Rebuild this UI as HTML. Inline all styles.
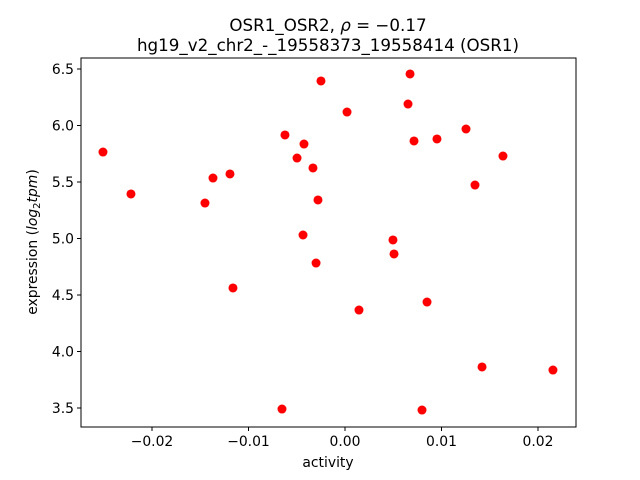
<!DOCTYPE html>
<html><head><meta charset="utf-8"><style>
body{margin:0;background:#fff;}
svg{display:block;font-family:"DejaVu Sans","Liberation Sans",sans-serif;}
</style></head><body>
<svg id="chart" width="640" height="480"></svg>
<script>
const xValues=[-0.02508,-0.02218,-0.01368,-0.01192,-0.01451,-0.01161,-0.00622,-0.00249,-0.00425,-0.00497,-0.00332,-0.0028,-0.00435,-0.003,-0.00653,0.00021,0.00145,0.00497,0.00508,0.00674,0.00653,0.00715,0.00953,0.0085,0.00798,0.01254,0.01347,0.01637,0.0142,0.02155];
const yValues=[5.765,5.394,5.535,5.571,5.314,4.562,5.916,6.394,5.836,5.712,5.624,5.341,5.031,4.783,3.491,6.119,4.367,4.987,4.863,6.456,6.190,5.863,5.881,4.438,3.482,5.969,5.473,5.730,3.863,3.836];
const xTicks=[-0.02,-0.01,0.00,0.01,0.02];
const xTickLabels=["\u22120.02","\u22120.01","0.00","0.01","0.02"];
const yTicks=[3.5,4.0,4.5,5.0,5.5,6.0,6.5];
const yTickLabels=["3.5","4.0","4.5","5.0","5.5","6.0","6.5"];

const NS="http://www.w3.org/2000/svg";
const svg=document.getElementById('chart');
const L=81,R=576,T=58,B=427;
const sx=v=>345+v*9650;
const sy=v=>69+(6.5-v)*113;
function mk(tag,attrs,parent){const e=document.createElementNS(NS,tag);for(const k in attrs)e.setAttribute(k,attrs[k]);(parent||svg).appendChild(e);return e;}

const pts=mk('g',{});


xValues.forEach((x,i)=>{
  const c=mk('circle',{cx:sx(x),cy:sy(yValues[i]),r:4.5,fill:'#ff0000'},pts);
  
  
});

const frame=mk('rect',{x:L,y:T,width:R-L,height:B-T,fill:'none',stroke:'#000','stroke-width':1});



xTicks.forEach((t,i)=>{
  const x=sx(t);
  const tk=mk('line',{x1:x,x2:x,y1:B,y2:B+4,stroke:'#000'});
  
  
  const tx=mk('text',{x:x,y:B+19,'font-size':13.9,'text-anchor':'middle'});
  tx.textContent=xTickLabels[i];
  
  
});
yTicks.forEach((t,i)=>{
  const y=sy(t);
  const tk=mk('line',{x1:L-4,x2:L,y1:y,y2:y,stroke:'#000'});
  
  
  const tx=mk('text',{x:L-7,y:y+5,'font-size':13.9,'text-anchor':'end'});
  tx.textContent=yTickLabels[i];
  
  
});
</script>
<script>
(function(){
const NS="http://www.w3.org/2000/svg";
const svg=document.getElementById('chart');
function txt(x,y,s,attrs,name){const e=document.createElementNS(NS,'text');e.setAttribute('x',x);e.setAttribute('y',y);for(const k in attrs)e.setAttribute(k,attrs[k]);e.innerHTML=s;


svg.appendChild(e);}
txt(328,31,'OSR1_OSR2, <tspan font-style="italic">ρ</tspan> = −0.17',{'font-size':16.7,'text-anchor':'middle'},'chart-title');
txt(328,51,'hg19_v2_chr2_-_19558373_19558414 (OSR1)',{'font-size':16.7,'text-anchor':'middle'},'chart-subtitle');
txt(328,467,'activity',{'font-size':13.9,'text-anchor':'middle'},'x-axis-title');
txt(37,242,'expression (<tspan font-style="italic">log</tspan><tspan font-size="10" dy="3">2</tspan><tspan font-style="italic" dy="-3">tpm</tspan>)',{'font-size':13.9,'text-anchor':'middle',transform:'rotate(-90 37 242)'},'y-axis-title');
})();
</script>
</body></html>
